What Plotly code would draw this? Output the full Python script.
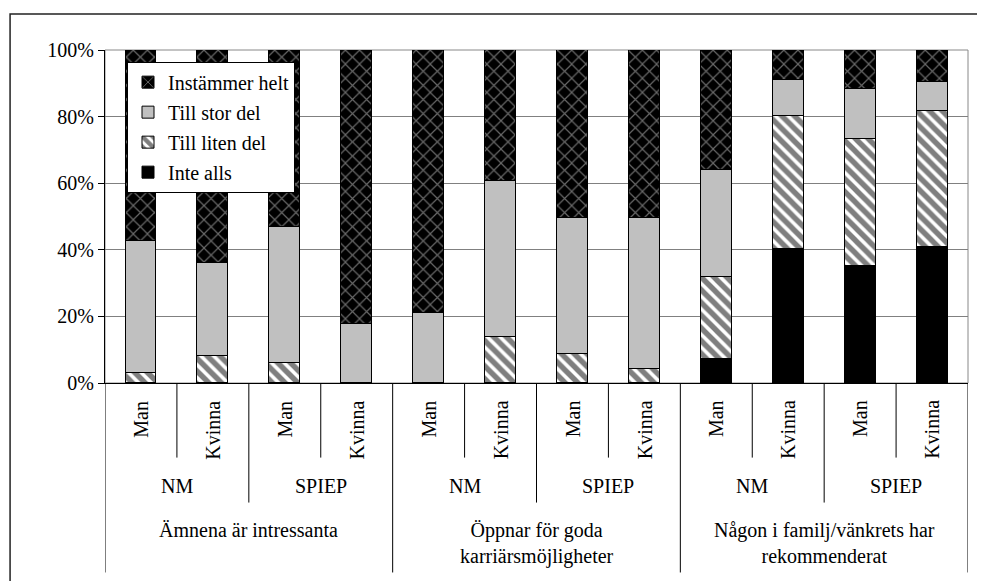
import plotly.graph_objects as go

questions = ["Ämnena är intressanta", "Öppnar för goda<br>karriärsmöjligheter", "Någon i familj/vänkrets har<br>rekommenderat"]
groups = ["NM", "SPIEP"]
genders = ["Man", "Kvinna"]

series_names = ["Inte alls", "Till liten del", "Till stor del", "Instämmer helt"]
inte_alls      = [0, 0, 0, 0,   0, 0, 0, 0,   7.1, 40.3, 35.2, 40.8]
till_liten_del = [3.1, 8.1, 5.9, 0,   0, 13.7, 8.6, 4.3,   24.6, 39.8, 38.2, 40.9]
till_stor_del  = [39.5, 27.8, 41.0, 17.8,   21.0, 46.9, 41.0, 45.3,   32.4, 10.9, 14.8, 8.6]
instammer_helt = [57.4, 64.1, 53.1, 82.2,   79.0, 39.4, 50.4, 50.4,   35.9, 9.0, 11.8, 9.7]
y_ticks = [0, 20, 40, 60, 80, 100]

FONT = "Liberation Serif"
FS = 20

n = len(inte_alls)
xs = list(range(n))

styles = [
    dict(color="black", pattern=None),
    dict(color="white", pattern=dict(shape="\\", fgcolor="black", bgcolor="white", size=9, solidity=0.6)),
    dict(color="#c0c0c0", pattern=None),
    dict(color="black", pattern=dict(shape="x", fgcolor="#d0d0d0", bgcolor="black", size=10, solidity=0.22)),
]
data = [inte_alls, till_liten_del, till_stor_del, instammer_helt]
ranks = [4, 3, 2, 1]

fig = go.Figure()
for i, (name, vals, st) in enumerate(zip(series_names, data, styles)):
    marker = dict(color=st["color"], line=dict(color="black", width=1))
    if st["pattern"]:
        marker["pattern"] = st["pattern"]
    fig.add_trace(go.Bar(x=xs, y=vals, name=name, marker=marker, width=0.43,
                         legendgroup=f"g{i}", legendrank=ranks[i]))

shapes = []
shapes.append(dict(type="rect", xref="paper", yref="paper", x0=-0.110, x1=1.2, y0=-1.0, y1=1.108,
                   line=dict(color="#222", width=1.5), layer="below"))
shapes.append(dict(type="rect", xref="paper", yref="paper", x0=0, x1=1, y0=0, y1=1,
                   line=dict(color="#888", width=1), layer="below"))
for k in range(n + 1):
    xv = k - 0.5
    if k % 4 == 0:
        yend = -0.569
    elif k % 2 == 0:
        yend = -0.359
    else:
        yend = -0.224
    shapes.append(dict(type="line", xref="x", yref="paper", x0=xv, x1=xv, y0=0, y1=yend,
                       line=dict(color="black", width=1)))

annotations = []
for i in range(n):
    annotations.append(dict(x=i, y=-0.046, xref="x", yref="paper", text=genders[i % 2],
                            textangle=-90, showarrow=False, xanchor="center", yanchor="top",
                            font=dict(family=FONT, size=FS)))
for g in range(n // 2):
    annotations.append(dict(x=2 * g + 0.5, y=-0.3105, xref="x", yref="paper", text=groups[g % 2],
                            showarrow=False, xanchor="center", yanchor="middle",
                            font=dict(family=FONT, size=FS)))
for q in range(len(questions)):
    annotations.append(dict(x=4 * q + 1.5, y=-0.403, xref="x", yref="paper", text=questions[q],
                            showarrow=False, xanchor="center", yanchor="top",
                            font=dict(family=FONT, size=FS)))

fig.update_layout(
    width=977, height=573,
    margin=dict(l=97, r=17, t=42, b=198),
    barmode="stack",
    paper_bgcolor="white", plot_bgcolor="white",
    showlegend=True,
    legend=dict(x=0.0255, y=0.965, xanchor="left", yanchor="top",
                bgcolor="white", bordercolor="black", borderwidth=1,
                traceorder="grouped", tracegroupgap=1,
                font=dict(family=FONT, size=FS)),
    xaxis=dict(range=[-0.5, n - 0.5], showticklabels=False, ticks="", showgrid=False,
               zeroline=False, showline=True, linecolor="black", linewidth=1),
    yaxis=dict(range=[0, 100], tickvals=y_ticks, ticktext=[f"{v}%" for v in y_ticks],
               showgrid=True, gridcolor="#808080", gridwidth=1, zeroline=False,
               showline=True, linecolor="black", linewidth=1,
               ticks="outside", ticklen=6, tickcolor="black",
               tickfont=dict(family=FONT, size=FS)),
    shapes=shapes,
    annotations=annotations,
    bargap=0,
)
fig.update_annotations(font_color="black")
fig.update_layout(legend_font_color="black", yaxis_tickfont_color="black")

fig.write_html("out.html")
